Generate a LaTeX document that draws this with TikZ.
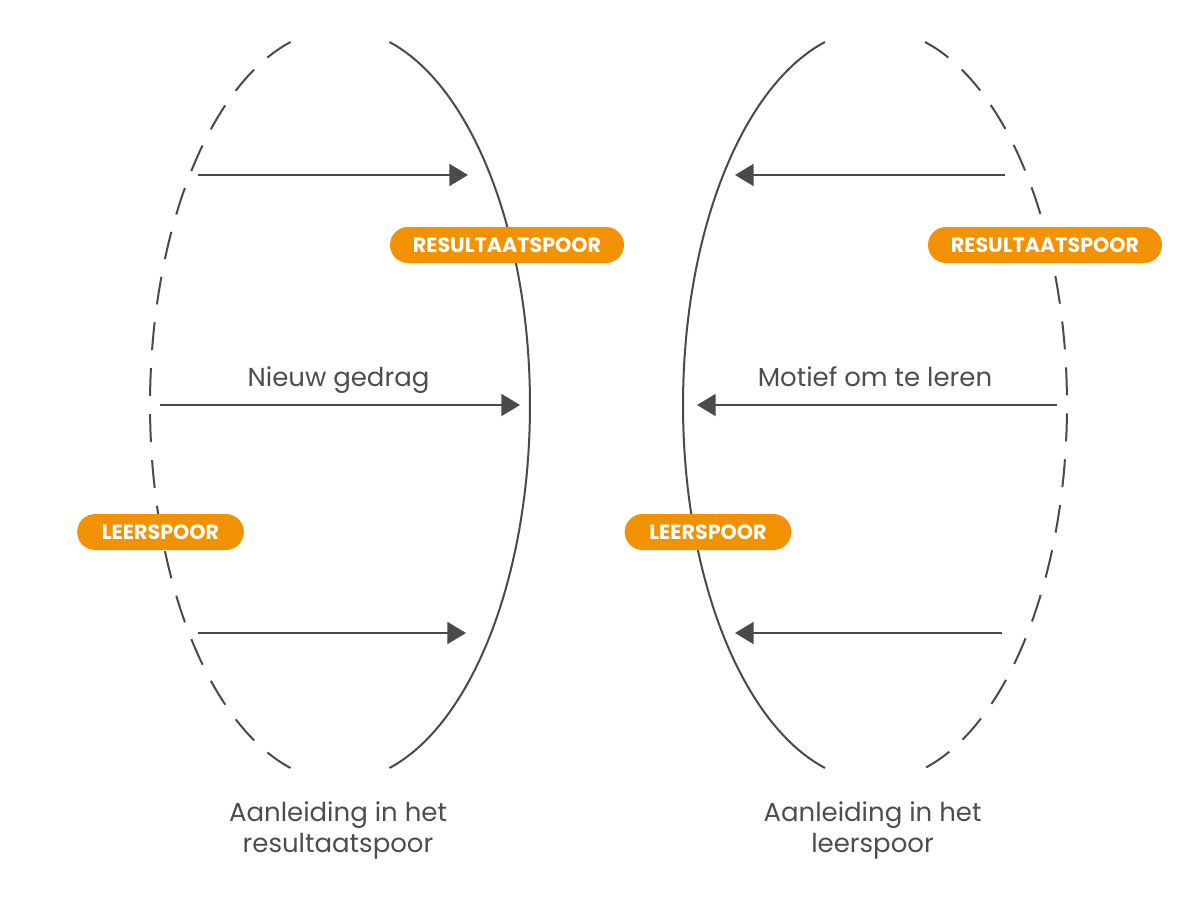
\documentclass[tikz,border=0pt]{standalone}
\usepackage{fontspec}
\setmainfont{Poppins}
\usetikzlibrary{arrows.meta}
\definecolor{oranje}{HTML}{F39200}
\definecolor{grijs}{HTML}{4A4A4A}
\definecolor{tekstgrijs}{HTML}{4D4D4D}

\begin{document}
\begin{tikzpicture}[x=0.75pt,y=-0.75pt]
                \useasboundingbox (0,0) rectangle (1200,900);
                % de twee ovalen: doorgetrokken en gestippelde helft
                \begin{scope}[grijs, line width=1.5pt]
                        \draw plot[domain=-74.9:74.9, samples=90] ({340+190*cos(\x)},{405+376*sin(\x)});
                        \draw[dash pattern=on 21pt off 13.5pt] plot[domain=254.9:105.1, samples=90] ({340+190*cos(\x)},{405+376*sin(\x)});
                        \draw plot[domain=105.1:254.9, samples=90] ({875+192*cos(\x)},{405+376*sin(\x)});
                        \draw[dash pattern=on 21pt off 13.5pt] plot[domain=-74.9:74.9, samples=90] ({875+192*cos(\x)},{405+376*sin(\x)});
                \end{scope}
                % begin- en eindpunten van de pijlen
                \coordinate (A1) at (198,175);  \coordinate (B1) at (468,175);
                \coordinate (A2) at (160,405);  \coordinate (B2) at (520,405);
                \coordinate (A3) at (198,633);  \coordinate (B3) at (466,633);
                \coordinate (C1) at (1005,175); \coordinate (D1) at (735,175);
                \coordinate (C2) at (1057,405); \coordinate (D2) at (697,405);
                \coordinate (C3) at (1002,633); \coordinate (D3) at (735,633);
                \begin{scope}[every edge/.style={draw=grijs, line width=1.5pt, -{Triangle[length=14pt,width=16.5pt]}}]
                        \path (A1) edge (B1);
                        \path (A2) edge (B2);
                        \path (A3) edge (B3);
                        \path (C1) edge (D1);
                        \path (C2) edge (D2);
                        \path (C3) edge (D3);
                \end{scope}
                \begin{scope}[every node/.style={fill=oranje, text=white, rounded corners=13.5pt, minimum height=27pt, inner sep=0pt, font=\bfseries\fontsize{15.5}{15.5}\selectfont}]
                        \node[minimum width=175.5pt] (RL) at (507,245) {RESULTAATSPOOR};
                        \node[minimum width=175.5pt] (RR) at (1045,245) {RESULTAATSPOOR};
                        \node[minimum width=125pt] (LL) at (160.5,532) {LEERSPOOR};
                        \node[minimum width=125pt] (LR) at (708,532) {LEERSPOOR};
                \end{scope}
                \begin{scope}[every node/.style={text=tekstgrijs, anchor=base, font=\fontsize{19.5}{23.25}\selectfont}]
                        \node (NG) at (338.5,386) {Nieuw gedrag};
                        \node (ML) at (875,386) {Motief om te leren};
                        \node[align=center] (AR) at (338,852) {Aanleiding in het\\resultaatspoor};
                        \node[align=center] (AL) at (872.5,852) {Aanleiding in het\\leerspoor};
                \end{scope}
        \end{tikzpicture}
\end{document}
